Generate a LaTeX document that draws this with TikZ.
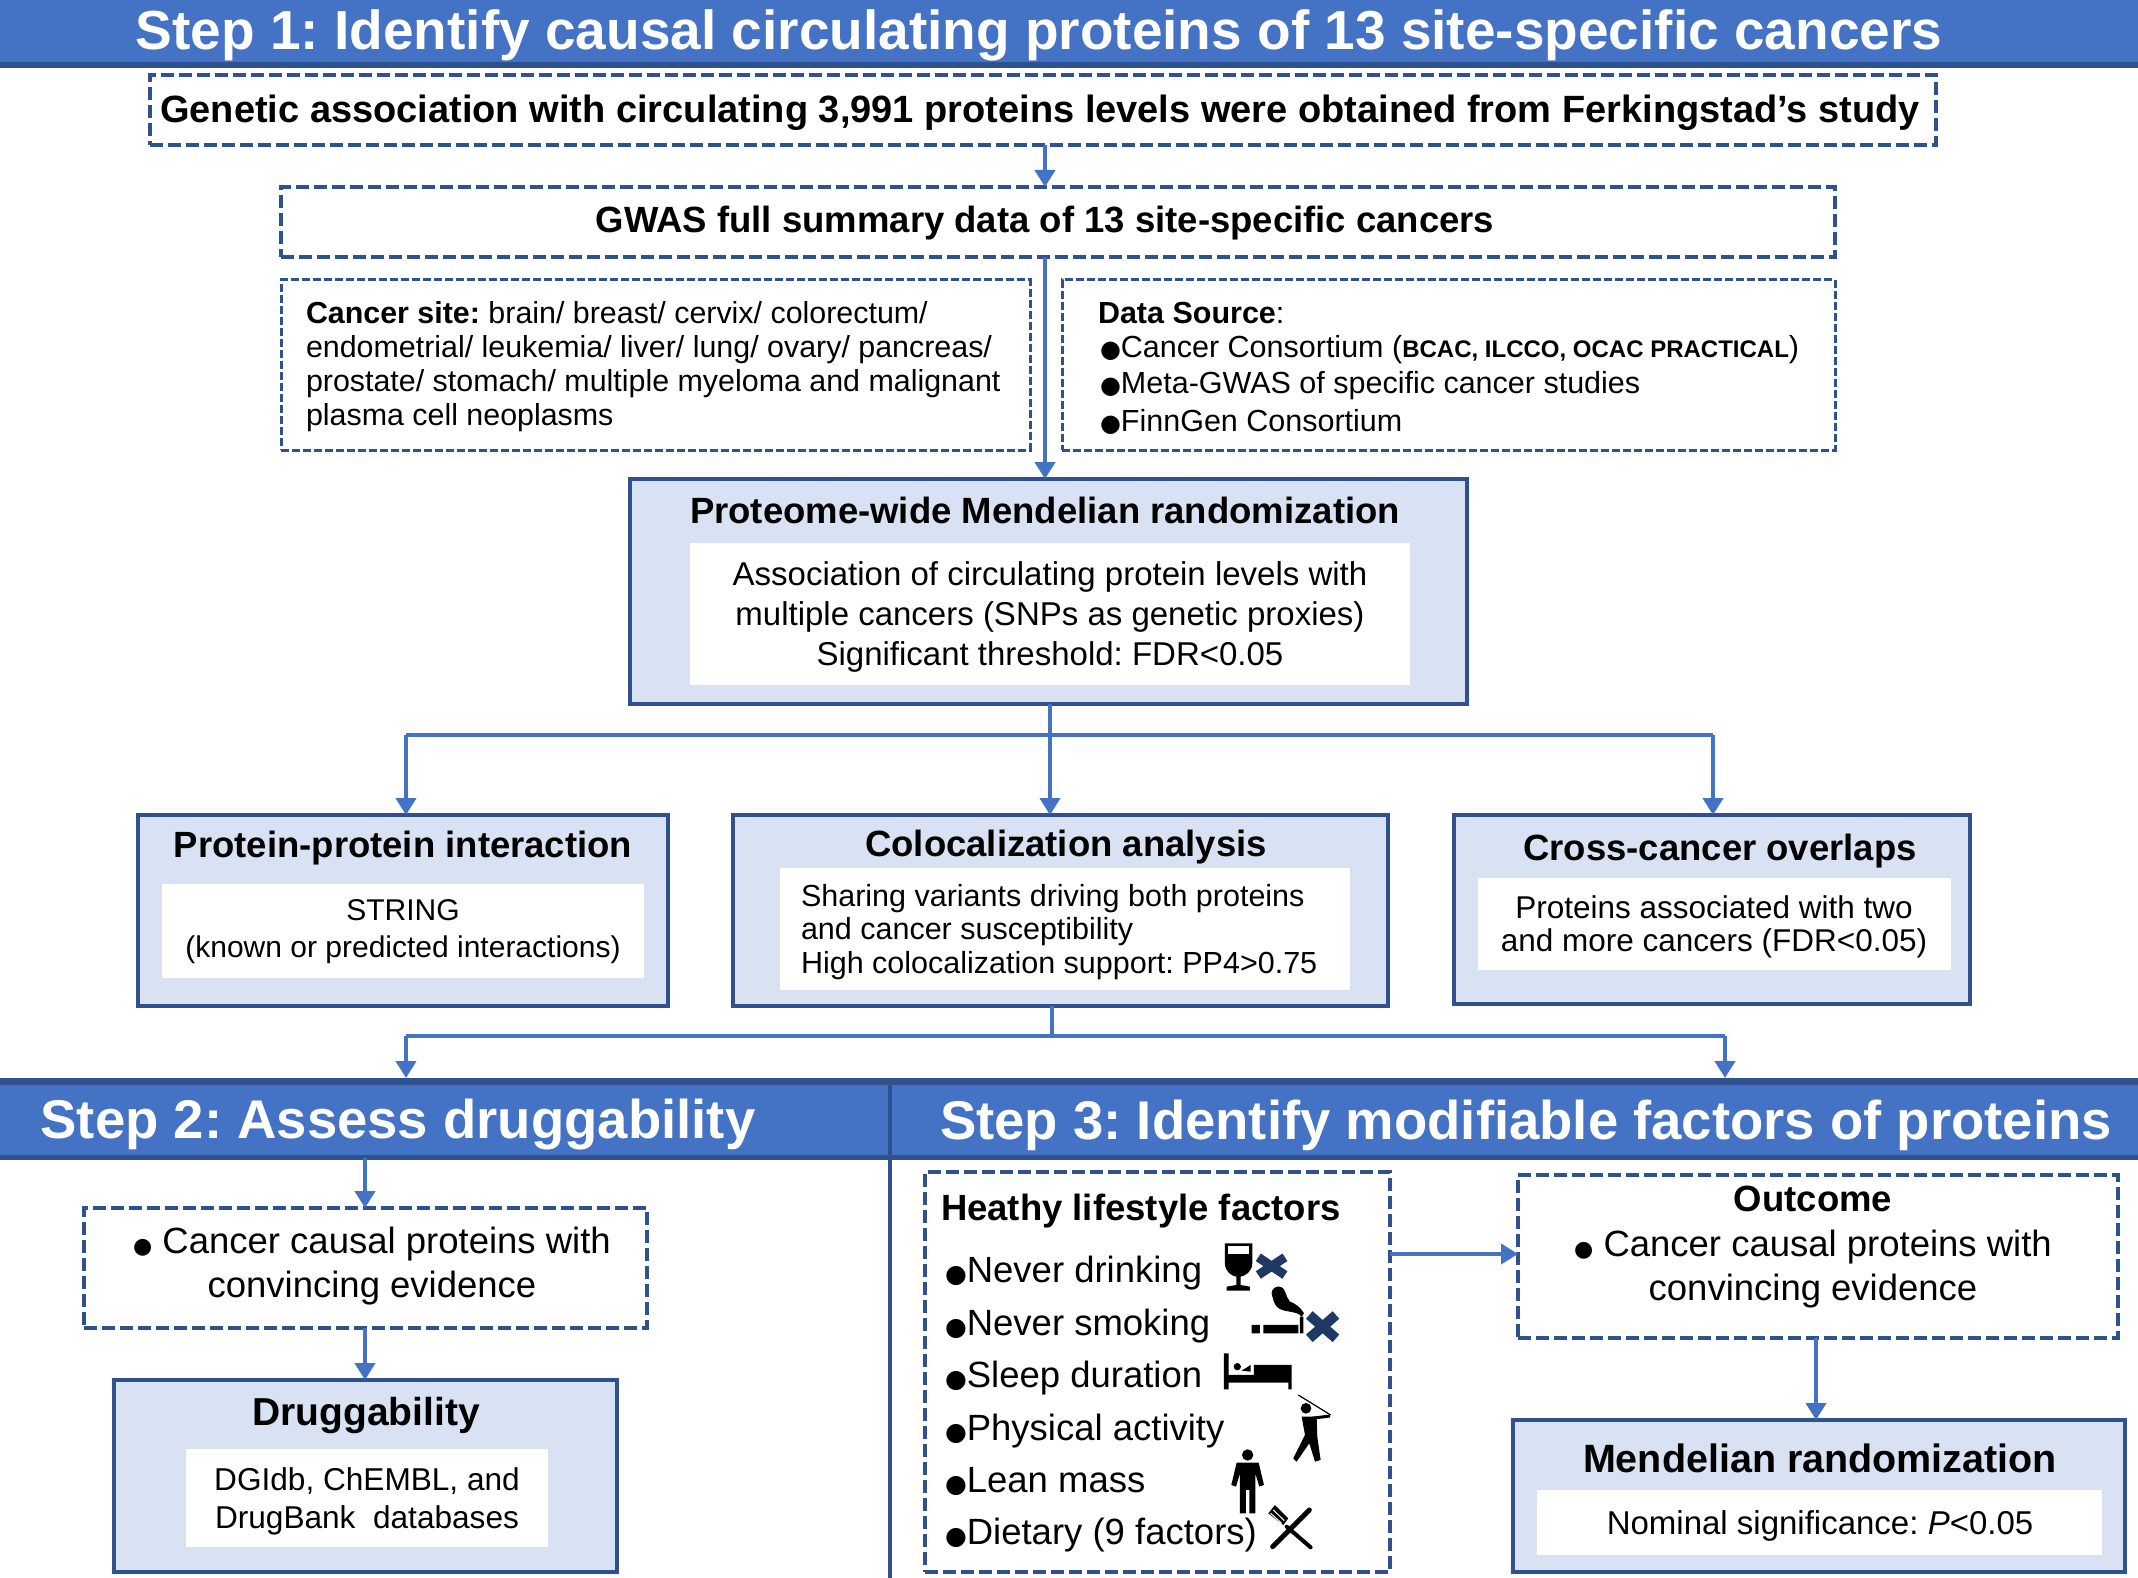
\documentclass[tikz,border=0pt]{standalone}
\usepackage{fontspec}
\usetikzlibrary{arrows.meta}
\setmainfont{Liberation Sans}
\newfontfamily\djf{DejaVu Sans}
\definecolor{bandblue}{HTML}{4472C4}
\definecolor{darkblue}{HTML}{2F528F}
\definecolor{panelblue}{HTML}{D9E2F3}
\definecolor{xnavy}{HTML}{1F3864}
\newcommand\fs[2]{\fontsize{#1}{#2}\selectfont}
\newcommand\blt[1]{{\djf\fontsize{#1}{#1}\selectfont ●}}
\tikzset{
 x=1pt,y=-1pt,
 arr/.style={draw=bandblue,line width=4.5pt,-{Triangle[length=17pt,width=20pt]}},
 lin/.style={draw=bandblue,line width=4.5pt},
 dashbox/.style={draw=darkblue,line width=4pt,dash pattern=on 13pt off 5pt,fill=white,inner sep=0pt,outer sep=0pt},
 thindash/.style={draw=darkblue,line width=3pt,dash pattern=on 8pt off 3pt,fill=white,inner sep=0pt,outer sep=0pt},
 panel/.style={draw=darkblue,line width=3.5pt,fill=panelblue,inner sep=0pt,outer sep=0pt},
 whitebox/.style={fill=white,inner sep=0pt,outer sep=0pt,align=center},
 band/.style={fill=bandblue,inner sep=0pt,outer sep=0pt},
 bandline/.style={fill=darkblue,inner sep=0pt,outer sep=0pt},
 txt/.style={inner sep=0pt,outer sep=0pt,align=center},
 ltxt/.style={inner sep=0pt,outer sep=0pt,align=left,anchor=west},
 bandtxt/.style={inner sep=0pt,outer sep=0pt,text=white},
}
% \bx{name}{style}{x1}{y1}{x2}{y2}{text}
\newcommand\bx[7]{%
 \pgfmathsetmacro\bw{#5-#3}\pgfmathsetmacro\bh{#6-#4}%
 \pgfmathsetmacro\bcx{(#3+#5)/2}\pgfmathsetmacro\bcy{(#4+#6)/2}%
 \node[#2,minimum width=\bw pt,minimum height=\bh pt,text width=\bw pt-2pt] (#1) at (\bcx,\bcy) {#7};}
\begin{document}
\begin{tikzpicture}
\frenchspacing
\useasboundingbox (0,0) rectangle (2138,1578);
% bands
\bx{topband}{band}{0}{0}{2138}{63}{}
\bx{topline}{bandline}{0}{62}{2138}{68}{}
\node[bandtxt,font=\bfseries\fs{55}{57}] (steponetxt) at (1039,35) {Step 1: Identify causal circulating proteins of 13 site-specific cancers};
\bx{midband}{band}{0}{1080}{2138}{1158}{}
\bx{midline}{bandline}{0}{1078}{2138}{1085}{}
\bx{midlineb}{bandline}{0}{1155}{2138}{1160}{}
\bx{divider}{bandline}{888}{1080}{892}{1578}{}
\node[bandtxt,font=\bfseries\fs{54.5}{56}] (steptwotxt) at (398,1125) {Step 2: Assess druggability};
\node[bandtxt,font=\bfseries\fs{54.5}{56}] (stepthreetxt) at (1526,1125) {Step 3: Identify modifiable factors of proteins};
% boxes step 1
\bx{geneticbox}{dashbox}{150}{75}{1936}{145}{}
\node[txt,font=\bfseries\fs{38}{40}] (genetictxt) at (1040,113) {Genetic association with circulating 3,991 proteins levels were obtained from Ferkingstad’s study};
\bx{gwasbox}{dashbox}{281}{187}{1835}{257}{}
\node[txt,font=\bfseries\fs{36.5}{40}] (gwastxt) at (1045,223) {GWAS full summary data of 13 site-specific cancers};
\bx{sitebox}{thindash}{281}{280}{1030}{450}{}
\node[ltxt,font=\fs{30.4}{34}] (sitetxt) at (306,367) {\textbf{Cancer site:} brain/ breast/ cervix/ colorectum/\\endometrial/ leukemia/ liver/ lung/ ovary/ pancreas/\\prostate/ stomach/ multiple myeloma and malignant\\plasma cell neoplasms};
\bx{sourcebox}{thindash}{1062}{280}{1835}{450}{}
\node[ltxt,font=\fs{30.5}{34}] (sourcetxt) at (1098,313) {\textbf{Data Source}:};
\node[ltxt,font=\fs{30.5}{34}] (sourcea) at (1100,350) {\blt{24}Cancer Consortium ({\fs{24}{34}\bfseries BCAC, ILCCO, OCAC PRACTICAL})};
\node[ltxt,font=\fs{30.5}{34}] (sourceb) at (1100,386) {\blt{24}Meta-GWAS of specific cancer studies};
\node[ltxt,font=\fs{30.5}{34}] (sourcec) at (1100,422) {\blt{24}FinnGen Consortium};
\bx{pwmrbox}{panel}{630}{479}{1467}{704}{}
\node[txt,font=\bfseries\fs{36.5}{40}] (pwmrtitle) at (1045,510) {Proteome-wide Mendelian randomization};
\bx{pwmrinner}{whitebox}{690}{543}{1410}{685}{}
\node[txt,font=\fs{33}{40}] (pwmrtxt) at (1050,617) {Association of circulating protein levels with\\multiple cancers (SNPs as genetic proxies)\\Significant threshold: FDR<0.05};
\bx{ppibox}{panel}{138}{815}{668}{1006}{}
\node[txt,font=\bfseries\fs{36.5}{40}] (ppititle) at (403,848) {Protein-protein interaction};
\bx{ppiinner}{whitebox}{162}{884}{644}{978}{}
\node[txt,font=\fs{30}{37}] (ppitxt) at (403,932) {STRING\\(known or predicted interactions)};
\bx{colocbox}{panel}{733}{815}{1388}{1006}{}
\node[txt,font=\bfseries\fs{36.5}{40}] (coloctitle) at (1066,847) {Colocalization analysis};
\bx{colocinner}{whitebox}{780}{868}{1350}{990}{}
\node[ltxt,font=\fs{30.5}{33.5}] (coloctxt) at (801,932) {Sharing variants driving both proteins\\and cancer susceptibility\\High colocalization support: PP4>0.75};
\bx{crossbox}{panel}{1454}{815}{1970}{1004}{}
\node[txt,font=\bfseries\fs{36.5}{40}] (crosstitle) at (1720,851) {Cross-cancer overlaps};
\bx{crossinner}{whitebox}{1478}{878}{1951}{970}{}
\node[txt,font=\fs{31.5}{33.5}] (crosstxt) at (1714,927) {Proteins associated with two\\and more cancers (FDR<0.05)};
% step 2
\bx{causalleft}{dashbox}{84}{1208}{647}{1328}{}
\node[txt,font=\fs{36.5}{44}] (causallefttxt) at (372,1266) {\blt{22} Cancer causal proteins with\\convincing evidence};
\bx{drugbox}{panel}{114}{1380}{617}{1572}{}
\node[txt,font=\bfseries\fs{39}{42}] (drugtitle) at (366,1415) {Druggability};
\bx{druginner}{whitebox}{186}{1449}{548}{1547}{}
\node[txt,font=\fs{31.6}{38}] (drugtxt) at (367,1501) {DGIdb, ChEMBL, and\\DrugBank\ \ databases};
% step 3
\bx{lifebox}{dashbox}{925}{1172}{1390}{1572}{}
\node[ltxt,font=\bfseries\fs{36.5}{40}] (lifetitle) at (941,1211) {Heathy lifestyle factors};
\node[ltxt,font=\fs{36.5}{40}] (lifea) at (945,1273) {\blt{25}Never drinking};
\node[ltxt,font=\fs{36.5}{40}] (lifeb) at (945,1326) {\blt{25}Never smoking};
\node[ltxt,font=\fs{36.5}{40}] (lifec) at (945,1378) {\blt{25}Sleep duration};
\node[ltxt,font=\fs{36.5}{40}] (lifed) at (945,1431) {\blt{25}Physical activity};
\node[ltxt,font=\fs{36.5}{40}] (lifee) at (945,1481) {\blt{25}Lean mass};
\node[ltxt,font=\fs{36.5}{40}] (lifef) at (945,1535) {\blt{25}Dietary (9 factors)};
\bx{outcomebox}{dashbox}{1518}{1175}{2118}{1338}{}
\node[txt,font=\bfseries\fs{36.5}{40}] (outcometitle) at (1813,1199) {Outcome};
\node[txt,font=\fs{36.5}{44}] (outcometxt) at (1813,1269) {\blt{22} Cancer causal proteins with\\convincing evidence};
\bx{mrbox}{panel}{1513}{1420}{2125}{1572}{}
\node[txt,font=\bfseries\fs{39.5}{42}] (mrtitle) at (1820,1458) {Mendelian randomization};
\bx{mrinner}{whitebox}{1537}{1490}{2102}{1555}{}
\node[txt,font=\fs{33}{36}] (mrtxt) at (1820,1526) {Nominal significance: \textit{P}<0.05};
% connectors
\coordinate (cola) at (1045,0);
\coordinate (colb) at (1050,0);
\coordinate (colc) at (406,0);
\coordinate (cold) at (1713,0);
\coordinate (cole) at (1052,0);
\coordinate (colf) at (1725,0);
\coordinate (colg) at (365,0);
\coordinate (colh) at (1816,0);
\coordinate (rowa) at (0,735);
\coordinate (rowb) at (0,1036);
\coordinate (rowc) at (0,1254);
\draw[arr] (cola |- geneticbox.south) -- (cola |- gwasbox.north);
\draw[arr] (cola |- gwasbox.south) -- (cola |- pwmrbox.north);
\draw[arr] (colb |- pwmrbox.south) -- (colb |- ppibox.north);
\draw[lin] (colc |- rowa) -- (cold |- rowa);
\draw[arr] (colc |- rowa) -- (colc |- ppibox.north);
\draw[arr] (cold |- rowa) -- (cold |- crossbox.north);
\draw[lin] (cole |- colocbox.south) -- (cole |- rowb);
\draw[lin] (colc |- rowb) -- (colf |- rowb);
\draw[arr] (colc |- rowb) -- (colc |- midline.north);
\draw[arr] (colf |- rowb) -- (colf |- midline.north);
\draw[arr] (colg |- midband.south) -- (colg |- causalleft.north);
\draw[arr] (colg |- causalleft.south) -- (colg |- drugbox.north);
\draw[arr] (lifebox.east |- rowc) -- (outcomebox.west |- rowc);
\draw[arr] (colh |- outcomebox.south) -- (colh |- mrbox.north);
% icons, in a 3x grid
\begin{scope}[shift={(900,1160)},x=0.3333pt,y=-0.3333pt]
 % wine glass
 \fill (975,250) -- (1057,250) -- (1057,310) .. controls (1057,335) and (1035,348) .. (1022,350) -- (1022,375) -- (1050,380) -- (1050,392) -- (980,392) -- (980,380) -- (1009,375) -- (1009,350) .. controls (995,348) and (975,335) .. (975,310) -- cycle;
 \fill[white] (984,258) rectangle (1048,283);
 \draw[xnavy,line width=9pt] (1075,292) -- (1155,345) (1075,345) -- (1155,292);
 % cigarette
 \fill (1055,495) rectangle (1080,520) (1090,495) rectangle (1195,520) (1200,470) rectangle (1210,520);
 \fill (1135,380) .. controls (1110,385) and (1115,420) .. (1130,440) .. controls (1150,460) and (1190,450) .. (1205,470) -- (1212,460) .. controls (1200,440) and (1185,430) .. (1170,425) .. controls (1155,410) and (1160,380) .. (1135,380) -- cycle;
 \fill (1135,400) circle (20) (1150,432) circle (14);
 \draw[xnavy,line width=10pt] (1228,465) -- (1308,535) (1228,535) -- (1308,465);
 % bed
 \fill (972,580) rectangle (986,688) (986,645) rectangle (1175,668) (1165,668) rectangle (1175,688) (1062,615) rectangle (1175,668);
 \fill (1012,620) circle (11);
 \fill (1025,632) -- (1052,615) -- (1052,635) -- cycle;
 % golfer
 \fill (1218,745) circle (16);
 \draw[line width=1.2pt] (1195,705) -- (1292,765);
 \draw[line width=3pt] (1235,775) -- (1290,768);
 \fill (1205,770) -- (1250,770) -- (1252,830) -- (1262,900) -- (1245,905) -- (1228,850) -- (1190,905) -- (1180,895) -- (1215,825) -- cycle;
 % person
 \fill (1043,885) circle (17);
 \fill (1010,908) -- (1076,908) -- (1092,975) -- (1078,980) -- (1066,940) -- (1066,1060) -- (1048,1060) -- (1048,990) -- (1038,990) -- (1038,1060) -- (1020,1060) -- (1020,940) -- (1008,980) -- (994,975) -- cycle;
 % cutlery
 \draw[line width=5pt,line cap=round] (1118,1160) -- (1228,1050);
 \draw[line width=4pt,line cap=round] (1160,1100) -- (1232,1162);
 \fill (1105,1060) -- (1125,1035) -- (1165,1075) -- (1150,1095) -- cycle;
 \draw[white,line width=1pt] (1112,1060) -- (1145,1090) (1120,1050) -- (1153,1082);
\end{scope}
\end{tikzpicture}
\end{document}
